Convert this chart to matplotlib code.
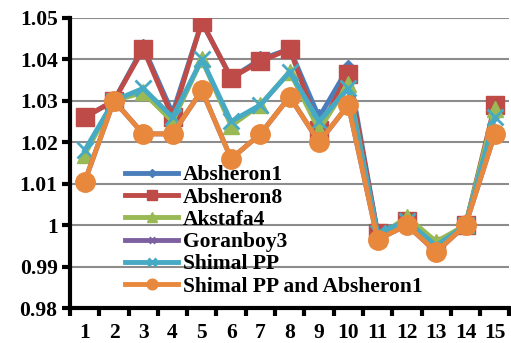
import numpy as np
import matplotlib.pyplot as plt
from matplotlib.ticker import FixedLocator, NullFormatter, FixedFormatter

x = np.arange(1, 16)
absheron1 = [1.026, 1.030, 1.043, 1.027, 1.049, 1.0355, 1.040, 1.0425, 1.026, 1.038, 0.998, 1.001, 0.995, 1.000, 1.027]
absheron8 = [1.026, 1.030, 1.0425, 1.026, 1.049, 1.0355, 1.0395, 1.0425, 1.023, 1.0365, 0.998, 1.001, 0.995, 1.000, 1.029]
akstafa4 = [1.017, 1.030, 1.032, 1.025, 1.040, 1.024, 1.029, 1.037, 1.023, 1.034, 0.997, 1.002, 0.996, 1.000, 1.028]
goranboy3 = [1.0105, 1.030, 1.022, 1.022, 1.0325, 1.016, 1.022, 1.031, 1.020, 1.029, 0.9965, 1.000, 0.9935, 1.000, 1.022]
shimal = [1.018, 1.030, 1.033, 1.026, 1.040, 1.025, 1.029, 1.037, 1.025, 1.033, 0.998, 1.001, 0.995, 1.000, 1.026]
shimal_abs = [1.0105, 1.030, 1.022, 1.022, 1.0325, 1.016, 1.022, 1.031, 1.020, 1.029, 0.9965, 1.000, 0.9935, 1.000, 1.022]

series = [
    ("Absheron1", absheron1, "#4A7EBB", "D", 8),
    ("Absheron8", absheron8, "#BE4B48", "s", 13),
    ("Akstafa4", akstafa4, "#98B954", "^", 12),
    ("Goranboy3", goranboy3, "#7D60A0", "x", 9),
    ("Shimal PP", shimal, "#46AAC5", "x", 11),
    ("Shimal PP and Absheron1", shimal_abs, "#E8883C", "o", 14),
]

plt.rcParams['font.family'] = 'Liberation Serif'
plt.rcParams['font.weight'] = 'bold'

fig = plt.figure(figsize=(5.11, 3.43), dpi=100)
ax = fig.add_axes([0.137, 0.102, 0.86, 0.846])

for name, vals, col, mk, ms in series:
    ax.plot(x, vals, color=col, lw=3.5, marker=mk, markersize=ms,
            markeredgewidth=2 if mk == "x" else 1, markeredgecolor=col, label=name)

ax.set_xlim(0.5, 15.5)
ax.set_ylim(0.98, 1.05)
yt = np.round(np.arange(0.98, 1.0501, 0.01), 2)
ax.set_yticks(yt)
ax.set_yticklabels(["0.98", "0.99", "1", "1.01", "1.02", "1.03", "1.04", "1.05"])
ax.yaxis.grid(True, color="#8c8c8c", lw=1.5)
ax.set_axisbelow(True)

ax.xaxis.set_major_locator(FixedLocator(np.arange(0.5, 16, 1)))
ax.xaxis.set_major_formatter(NullFormatter())
ax.xaxis.set_minor_locator(FixedLocator(x))
ax.xaxis.set_minor_formatter(FixedFormatter([str(i) for i in x]))
ax.tick_params(axis="x", which="major", length=6, width=3, direction="out")
ax.tick_params(axis="x", which="minor", length=0, pad=11, labelsize=15.5)
ax.tick_params(axis="y", length=6, width=3, direction="out", labelsize=15.5, pad=3)

for s in ["top", "right"]:
    ax.spines[s].set_visible(False)
for s in ["left", "bottom"]:
    ax.spines[s].set_linewidth(3)

ax.legend(loc="lower left", bbox_to_anchor=(0.095, -0.005), frameon=False,
          prop={"family": "Liberation Serif", "weight": "bold", "size": 15.5},
          markerscale=0.55, handlelength=2.5, handletextpad=0.2,
          labelspacing=0.1, borderpad=0.1)

fig.savefig("out.png", dpi=100)
